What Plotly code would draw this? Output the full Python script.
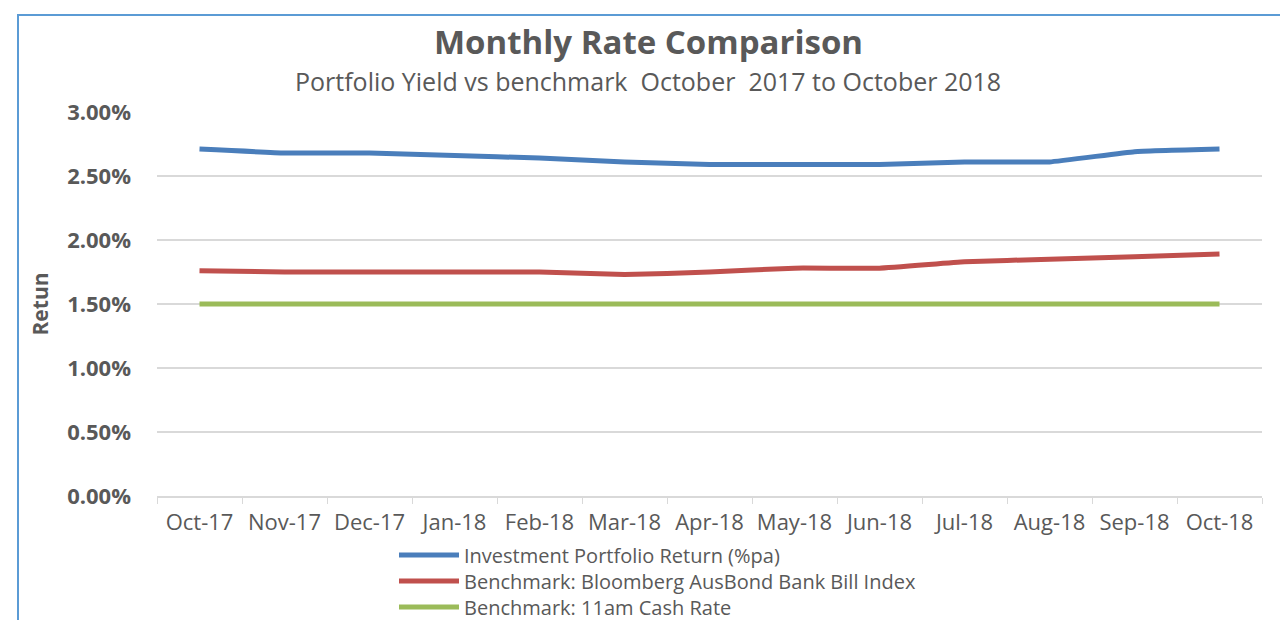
import plotly.graph_objects as go

months = ["Oct-17", "Nov-17", "Dec-17", "Jan-18", "Feb-18", "Mar-18", "Apr-18",
          "May-18", "Jun-18", "Jul-18", "Aug-18", "Sep-18", "Oct-18"]
portfolio = [2.71, 2.68, 2.68, 2.66, 2.64, 2.61, 2.59, 2.59, 2.59, 2.61, 2.61, 2.69, 2.71]
bank_bill = [1.76, 1.75, 1.75, 1.75, 1.75, 1.73, 1.75, 1.78, 1.78, 1.83, 1.85, 1.87, 1.89]
cash_rate = [1.50, 1.50, 1.50, 1.50, 1.50, 1.50, 1.50, 1.50, 1.50, 1.50, 1.50, 1.50, 1.50]
series_names = ["Investment Portfolio Return (%pa)",
                "Benchmark: Bloomberg AusBond Bank Bill Index",
                "Benchmark: 11am Cash Rate"]
y_ticks = [0, 0.5, 1.0, 1.5, 2.0, 2.5, 3.0]

colors = ["#4A7EBB", "#C0504D", "#9BBB59"]
FONT = "Open Sans"
GRAY = "#595959"

# plot area in pixels
L, R, T, B = 157, 1262, 112, 496
W, H = R - L, B - T
px = lambda x: (x - L) / W
py = lambda y: (B - y) / H

legend_ids = ["legend", "legend2", "legend3"]
legend_y = [555, 581, 607]

fig = go.Figure()
for name, vals, c, lg in zip(series_names, [portfolio, bank_bill, cash_rate], colors, legend_ids):
    fig.add_trace(go.Scatter(x=months, y=vals, name=name, mode="lines", legend=lg,
                             line=dict(color=c, width=5, shape="spline", smoothing=0.3)))

legend_layout = {}
for lg, yc in zip(legend_ids, legend_y):
    legend_layout[lg] = dict(x=px(394), y=py(yc), xanchor="left", yanchor="middle",
                             font=dict(size=20, color=GRAY, family=FONT),
                             itemwidth=60, bgcolor="rgba(0,0,0,0)", borderwidth=0)

fig.update_layout(
    width=1280, height=620,
    margin=dict(l=L, r=1280 - R, t=T, b=620 - B, autoexpand=False),
    paper_bgcolor="white", plot_bgcolor="white",
    font=dict(family=FONT, color=GRAY),
    showlegend=True,
    **legend_layout,
    xaxis=dict(type="category", range=[-0.5, 12.5], showgrid=False, automargin=False,
               showline=True, linecolor="#D9D9D9", linewidth=1.5,
               ticks="outside", tickson="boundaries", ticklen=6, tickcolor="#D9D9D9",
               ticklabelstandoff=6,
               tickfont=dict(size=22, color=GRAY, family=FONT)),
    yaxis=dict(range=[0, 3.0], tickvals=y_ticks, ticktext=[f"{v:.2f}%" for v in y_ticks],
               showgrid=True, gridcolor="#D9D9D9", gridwidth=1.5, zeroline=False,
               showline=False, ticks="", ticklabelstandoff=25, automargin=False,
               tickfont=dict(size=22, color=GRAY, family=FONT, weight="bold"),
               title=dict(text="Retun", standoff=12,
                          font=dict(size=21, color=GRAY, family=FONT, weight="bold"))),
    annotations=[
        dict(text="<b>Monthly Rate Comparison</b>", x=px(648), y=py(42), xref="paper", yref="paper",
             xanchor="center", yanchor="middle",
             showarrow=False, font=dict(size=33, color=GRAY, family=FONT)),
        dict(text="Portfolio Yield vs benchmark  October  2017 to October 2018", showarrow=False,
             xref="paper", yref="paper", x=px(648), y=py(81), xanchor="center", yanchor="middle",
             font=dict(size=25, color=GRAY, family=FONT)),
    ],
    shapes=[dict(type="rect", xref="paper", yref="paper",
                 x0=px(18), x1=px(1300), y0=py(640), y1=py(15),
                 line=dict(color="#5B9BD5", width=2), layer="below")],
)

fig.write_html("out.html", config={"displayModeBar": False},
               post_script="document.body.style.margin='0px';")
